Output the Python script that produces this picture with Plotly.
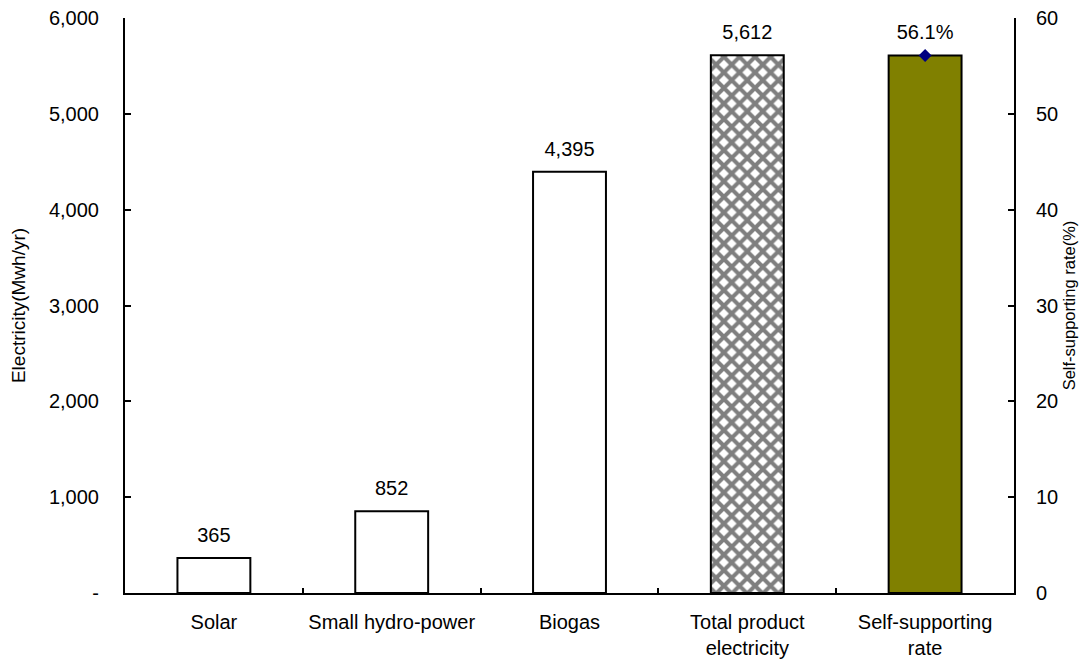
import plotly.graph_objects as go

categories = ["Solar", "Small hydro-power", "Biogas", "Total product<br>electricity", "Self-supporting<br>rate"]
source_cats = categories[:3]
source_values = [365, 852, 4395]
total_cat = categories[3]
total_value = 5612
rate_cat = categories[4]
rate_value = 56.1

left_tickvals = [0, 1000, 2000, 3000, 4000, 5000, 6000]
left_ticktext = ["-", "1,000", "2,000", "3,000", "4,000", "5,000", "6,000"]
right_tickvals = [0, 10, 20, 30, 40, 50, 60]

FONT = "Liberation Sans, Arial, sans-serif"
fs = 20

fig = go.Figure()

fig.add_trace(go.Bar(
    x=source_cats, y=source_values,
    marker=dict(color="white", line=dict(color="black", width=2)),
    showlegend=False, hoverinfo="skip",
))
fig.add_trace(go.Bar(
    x=[total_cat], y=[total_value],
    marker=dict(color="white", line=dict(color="black", width=2),
                pattern=dict(shape="x", fgcolor="black", bgcolor="white", size=11, solidity=0.6)),
    showlegend=False, hoverinfo="skip",
))
fig.add_trace(go.Bar(
    x=[rate_cat], y=[rate_value], yaxis="y2",
    marker=dict(color="#808000", line=dict(color="black", width=2)),
    showlegend=False, hoverinfo="skip",
))

# value labels
fig.add_trace(go.Scatter(
    x=source_cats + [total_cat], y=source_values + [total_value],
    mode="markers+text",
    marker=dict(size=16, opacity=0),
    text=[f"{v:,}" for v in source_values + [total_value]],
    textposition="top center",
    textfont=dict(family=FONT, size=fs, color="black"),
    showlegend=False, hoverinfo="skip", cliponaxis=False,
))
fig.add_trace(go.Scatter(
    x=[rate_cat], y=[rate_value], yaxis="y2",
    mode="markers+text",
    marker=dict(size=16, opacity=0),
    text=[f"{rate_value}%"],
    textposition="top center",
    textfont=dict(family=FONT, size=fs, color="black"),
    showlegend=False, hoverinfo="skip", cliponaxis=False,
))
fig.add_trace(go.Scatter(
    x=[rate_cat], y=[rate_value], yaxis="y2",
    mode="markers",
    marker=dict(symbol="diamond", size=10, color="#000080"),
    showlegend=False, hoverinfo="skip", cliponaxis=False,
))

fig.update_layout(
    width=1083, height=655,
    margin=dict(l=117, r=77, t=10, b=70),
    paper_bgcolor="white", plot_bgcolor="white",
    barmode="overlay", bargap=0.59,
    font=dict(family=FONT, size=fs, color="black"),
    xaxis=dict(
        categoryorder="array", categoryarray=categories,
        showline=True, linecolor="black", linewidth=2, mirror=False,
        ticks="inside", tickson="boundaries", ticklen=5, tickwidth=2, tickcolor="black",
        showgrid=False, zeroline=False, automargin=False,
        ticklabelstandoff=10, ticklabeloverflow="allow",
        tickfont=dict(family=FONT, size=fs),
    ),
    yaxis=dict(
        range=[0, 6000], tickvals=left_tickvals, ticktext=left_ticktext,
        showline=True, linecolor="black", linewidth=2,
        ticks="inside", ticklen=6, tickwidth=2, tickcolor="black",
        showgrid=False, zeroline=False, automargin=False,
        ticklabelstandoff=20, ticklabeloverflow="allow",
        tickfont=dict(family=FONT, size=fs),
        title=dict(text="Electricity(Mwh/yr)", font=dict(family=FONT, size=19), standoff=22),
    ),
    yaxis2=dict(
        range=[0, 60], tickvals=right_tickvals, overlaying="y", side="right",
        showline=True, linecolor="black", linewidth=2,
        ticks="inside", ticklen=6, tickwidth=2, tickcolor="black",
        showgrid=False, zeroline=False, automargin=False,
        ticklabelstandoff=16, ticklabeloverflow="allow",
        tickfont=dict(family=FONT, size=fs),
        title=dict(text="Self-supporting rate(%)", font=dict(family=FONT, size=16.5), standoff=6),
    ),
)

fig.write_html("out.html")
